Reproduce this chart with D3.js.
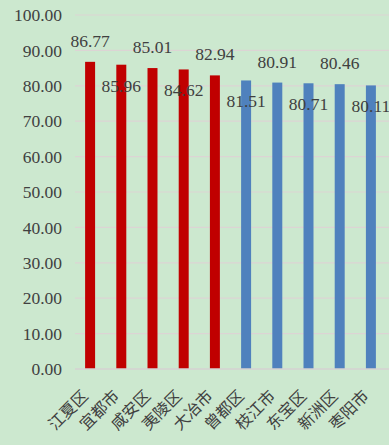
<!DOCTYPE html>
<html><head><meta charset="utf-8">
<script src="https://cdn.jsdelivr.net/npm/d3@7"></script>
<style>
html,body{margin:0;padding:0;background:#cce8cf;overflow:hidden;}
svg{display:block;}
</style></head>
<body>
<svg id="c" width="389" height="445"></svg>
<script>
const categories = ["江夏区","宜都市","咸安区","夷陵区","大冶市","曾都区","枝江市","东宝区","新洲区","枣阳市"];
const values = [86.77,85.96,85.01,84.62,82.94,81.51,80.91,80.71,80.46,80.11];
const groups = ["red","red","red","red","red","blue","blue","blue","blue","blue"];
const yTicks = [0,10,20,30,40,50,60,70,80,90,100];

const svg = d3.select("#c");
const W = 389, H = 445;
svg.append("rect").attr("width",W).attr("height",H).attr("fill","#cce8cf");

const x = d3.scaleBand().domain(categories).range([74.5, 386.5]).paddingInner(0.68).paddingOuter(0.34);
const y = d3.scaleLinear().domain([0,100]).range([369, 15]);
const color = d3.scaleOrdinal().domain(["red","blue"]).range(["#c00000","#4f81bd"]);

// gridlines
svg.append("g").selectAll("line").data(yTicks.filter(d=>d>0)).join("line")
  .attr("x1",75).attr("x2",W).attr("y1",d=>y(d)).attr("y2",d=>y(d))
  .attr("stroke","#dcd4d4").attr("stroke-width",1.2);

// y axis labels
const yAxis = d3.axisLeft(y).tickValues(yTicks).tickFormat(d=>d.toFixed(2)).tickSize(0).tickPadding(0);
const ya = svg.append("g").attr("transform","translate(62,0)").call(yAxis);
ya.select(".domain").remove();
ya.selectAll("text").attr("font-family","'Liberation Serif','Times New Roman',serif")
  .attr("font-size",17.5).attr("fill","#404040").attr("dy","0.33em");

// bars
svg.append("g").selectAll("rect").data(categories).join("rect")
  .attr("x",d=>x(d)).attr("width",x.bandwidth())
  .attr("y",(d,i)=>y(values[i])).attr("height",(d,i)=>y(0)-y(values[i]))
  .attr("fill",(d,i)=>color(groups[i]));

// baseline
svg.append("line").attr("x1",75).attr("x2",W).attr("y1",y(0)).attr("y2",y(0))
  .attr("stroke","#d6d2d2").attr("stroke-width",1.5);

// data labels
svg.append("g").selectAll("text").data(categories).join("text")
  .attr("x",d=>x(d)+x.bandwidth()/2)
  .attr("y",(d,i)=> i%2===0 ? y(values[i]) - 15 : y(values[i]) + 27)
  .attr("text-anchor","middle")
  .attr("font-family","'Liberation Serif','Times New Roman',serif")
  .attr("font-size",17.5).attr("fill","#404040")
  .text((d,i)=>values[i].toFixed(2));

// x labels
svg.append("g").selectAll("text").data(categories).join("text")
  .attr("transform",d=>`translate(${x(d)+x.bandwidth()/2-1},${y(0)+28}) rotate(-45)`)
  .attr("text-anchor","end")
  .attr("font-family","'Noto Sans CJK SC',sans-serif")
  .attr("font-size",16).attr("fill","#404040")
  .text(d=>d);
</script>
</body></html>
